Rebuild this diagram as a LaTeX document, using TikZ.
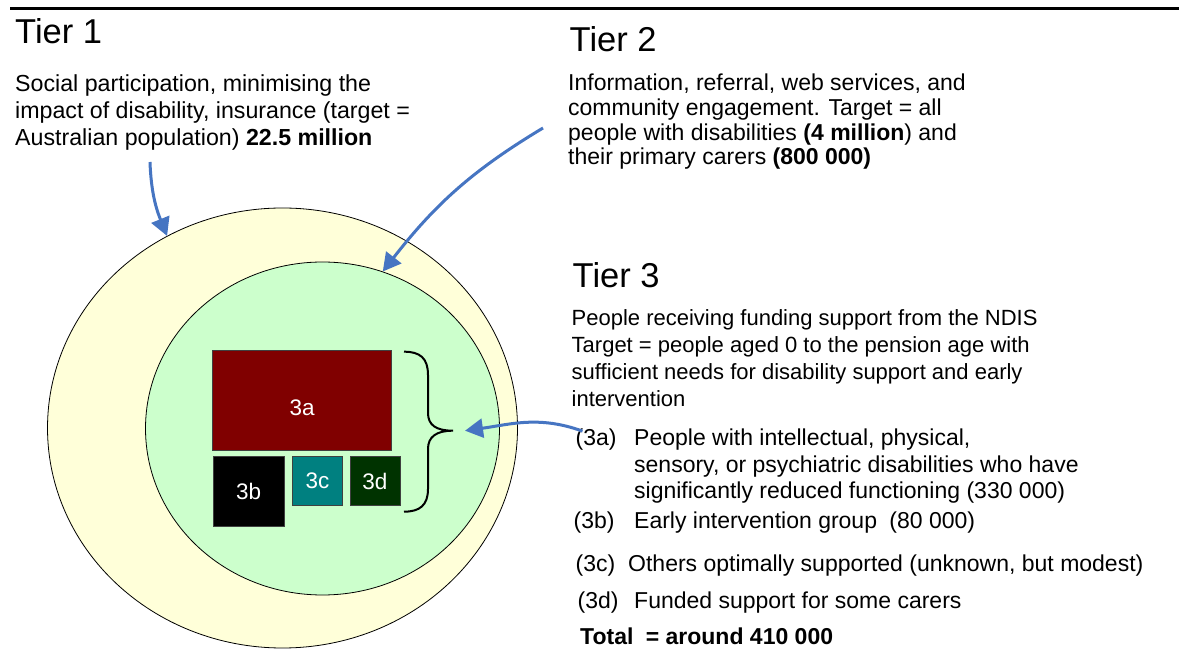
\documentclass[tikz,border=0pt]{standalone}
\usepackage{fontspec}
\setmainfont{Liberation Sans}
\usetikzlibrary{arrows.meta, shapes.geometric}
\definecolor{tieryellow}{HTML}{FFFFD9}
\definecolor{tiergreen}{HTML}{CCFFCC}
\definecolor{blockred}{HTML}{800000}
\definecolor{blockteal}{HTML}{008080}
\definecolor{blockgreen}{HTML}{003300}
\definecolor{arrowblue}{HTML}{4675C2}

\tikzset{
  tierhead/.style={anchor=base west, inner sep=0pt, font=\fontsize{34.5}{38}\selectfont},
  tiertext/.style={anchor=base west, inner sep=0pt, align=left, font=\fontsize{23}{27}\selectfont},
  itemtext/.style={anchor=base west, inner sep=0pt, align=left, font=\fontsize{23}{26.5}\selectfont},
  tierring/.style={ellipse, draw=black, line width=0.8pt, inner sep=0pt},
  block/.style={draw=black!75, line width=0.8pt, text=white, inner sep=0pt, font=\fontsize{22.5}{24}\selectfont},
  pointer/.style={draw=arrowblue, line width=3pt, -{Triangle[length=18pt,width=19pt]}},
}

\begin{document}
\begin{tikzpicture}[x=1pt, y=1pt]
  \fill[white] (0,0) rectangle (1179,651);
  \useasboundingbox (0,0) rectangle (1179,651);
  \draw[line width=2.5pt] (10,642.5) -- (1179,642.5);

  % the two rings
  \node[tierring, fill=tieryellow, minimum width=470pt, minimum height=440pt] (tier1) at (282.5,223) {};
  \node[tierring, fill=tiergreen, minimum width=354pt, minimum height=333pt] (tier2) at (322.5,222.5) {};

  % tier 3 blocks
  \node[block, fill=blockred, minimum width=179pt, minimum height=99.3pt, text height=30pt, text depth=0pt] (b3a) at (302.2,250.6) {3a};
  \node[block, fill=black, minimum width=70.7pt, minimum height=69.3pt] (b3b) at (248.6,159.6) {3b};
  \node[block, fill=blockteal, minimum width=49.6pt, minimum height=48.6pt] (b3c) at (317.5,170) {3c};
  \node[block, fill=blockgreen, minimum width=50pt, minimum height=48.6pt] (b3d) at (375,170) {3d};

  % brace
  \draw[line width=2pt] (404,299.3) .. controls (420,299.3) and (428,293) .. (428,276)
    -- (428,238) .. controls (428,226) and (436,220.3) .. (453,220.3)
    .. controls (436,220.3) and (428,214) .. (428,202)
    -- (428,162) .. controls (428,146) and (420,139.3) .. (404,139.3);
  \coordinate (bracetip) at (453,220.3);

  % headings and texts (base = last line)
  \node[tierhead] (h1) at (15,607.7) {Tier 1};
  \node[tiertext, font=\fontsize{23.2}{27}\selectfont] (t1) at (15,505.3) {Social participation, minimising the\\
    impact of disability, insurance (target =\\
    Australian population) \textbf{22.5 million}};

  \node[tierhead] (h2) at (569.5,599.3) {Tier 2};
  \node[tiertext, font=\fontsize{23}{24.7}\selectfont] (t2) at (568,486.2) {Information, referral, web services, and\\
    community engagement. Target = all\\
    people with disabilities \textbf{(4 million}) and\\
    their primary carers \textbf{(800 000)}};

  \node[tierhead] (h3) at (572.5,363.7) {Tier 3};
  \node[tiertext, font=\fontsize{22}{27}\selectfont] (t3) at (571.5,244) {People receiving funding support from the NDIS\\
    Target = people aged 0 to the pension age with\\
    sufficient needs for disability support and early\\
    intervention};

  \node[itemtext] (l3a) at (575.5,205) {(3a)};
  \node[itemtext] (i3a) at (634,152) {People with intellectual, physical,\\
    sensory, or psychiatric disabilities who have\\
    significantly reduced functioning (330 000)};
  \node[itemtext] (l3b) at (573.5,122) {(3b)};
  \node[itemtext] (i3b) at (634,122) {Early intervention group\hspace{6pt} (80 000)};
  \node[itemtext] (l3c) at (575.5,79) {(3c)};
  \node[itemtext] (i3c) at (628,79) {Others optimally supported (unknown, but modest)};
  \node[itemtext] (l3d) at (577.5,42) {(3d)};
  \node[itemtext] (i3d) at (634,42) {Funded support for some carers};
  \node[itemtext, font=\fontsize{23}{26}\selectfont\bfseries] (total) at (580,6) {Total\hspace{6pt} = around 410 000};

  % pointers
  \coordinate (t1from) at (150,489);
  \coordinate (t2from) at (543,523);
  \coordinate (t3from) at ([shift={(7pt,-2pt)}]l3a.north west);
  \draw[pointer] (t1from) to[out=-88, in=112] (tier1.121);
  \draw[pointer] (t2from) to[out=211, in=52] (tier2.69);
  \draw[pointer] (t3from) to[out=160, in=8] ([xshift=12pt]bracetip);
\end{tikzpicture}
\end{document}
